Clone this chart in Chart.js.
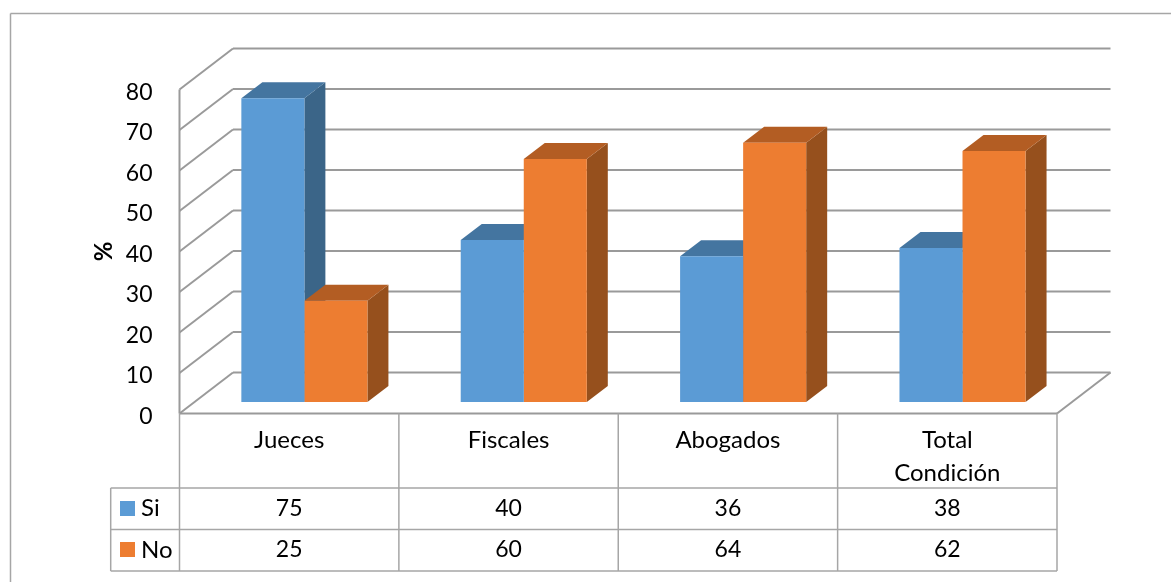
<!DOCTYPE html>
<html>
<head>
<meta charset="utf-8">
<title>Si / No por condición</title>
<script src="https://cdn.jsdelivr.net/npm/chart.js@4"></script>
<style>
    html, body { margin: 0; padding: 0; background: #ffffff; }
    canvas { display: block; }
</style>
</head>
<body>
<canvas id="chart" width="1171" height="582"></canvas>
<script>
const categories = ['Jueces', 'Fiscales', 'Abogados', ['Total', 'Condición']];
const siValues = [75, 40, 36, 38];
const noValues = [25, 60, 64, 62];
const axisMax = 80;
const axisStep = 10;

const fontFamily = 'Lato, "Open Sans", sans-serif';
const lineGrey = '#9a9a9a';
const tableGrey = '#a6a6a6';

// shades of the side and top faces for each series
const faceColors = [
    { front: '#5b9bd5', side: '#3b6588', top: '#4475a0' },
    { front: '#ed7d31', side: '#96501d', top: '#b35d23' }
];

// the wall sits behind the front plane, the bars stand half way in
const wallDepth = { x: 53.5, y: -41 };
const barShift = { x: 15.2, y: -11.5 };
const barDepth = { x: 21, y: -16 };

function line(ctx, x1, y1, x2, y2) {
    ctx.beginPath();
    ctx.moveTo(x1, y1);
    ctx.lineTo(x2, y2);
    ctx.stroke();
}

function poly(ctx, pts, color) {
    ctx.fillStyle = color;
    ctx.beginPath();
    pts.forEach((p, i) => i ? ctx.lineTo(p[0], p[1]) : ctx.moveTo(p[0], p[1]));
    ctx.closePath();
    ctx.fill();
}

const box3d = {
    id: 'box3d',
    beforeDatasetsDraw(chart) {
        const { ctx, scales: { x, y } } = chart;
        const left = x.left, right = x.right;
        ctx.save();

        // outer frame of the picture, open on the right
        ctx.strokeStyle = tableGrey;
        ctx.lineWidth = 1.5;
        line(ctx, 1171, 13.5, 10.5, 13.5);
        line(ctx, 10.5, 13.5, 10.5, 582);

        // back wall and left wall lines
        ctx.strokeStyle = lineGrey;
        ctx.lineWidth = 2;
        y.ticks.forEach(t => {
            const py = y.getPixelForValue(t.value);
            line(ctx, left, py, left + wallDepth.x, py + wallDepth.y);
            line(ctx, left + wallDepth.x, py + wallDepth.y, right + wallDepth.x, py + wallDepth.y);
        });
        line(ctx, left, y.top, left, y.bottom);

        // floor
        const y0 = y.getPixelForValue(0);
        line(ctx, left, y0, right, y0);
        line(ctx, right, y0, right + wallDepth.x, y0 + wallDepth.y);

        // Chart.js paints the last dataset first and the fronts stay side by side,
        // so all side and top faces go down here, before any front
        ctx.translate(barShift.x, barShift.y);
        chart.data.datasets.forEach((ds, i) => {
            const colors = faceColors[i];
            chart.getDatasetMeta(i).data.forEach(bar => {
                const { x, y, base, width } = bar.getProps(['x', 'y', 'base', 'width'], true);
                const l = x - width / 2, r = x + width / 2;
                poly(ctx, [[r, y], [r + barDepth.x, y + barDepth.y], [r + barDepth.x, base + barDepth.y], [r, base]], colors.side);
                poly(ctx, [[l, y], [l + barDepth.x, y + barDepth.y], [r + barDepth.x, y + barDepth.y], [r, y]], colors.top);
            });
        });
        ctx.restore();
    },
    beforeDatasetDraw(chart) {
        chart.ctx.save();
        chart.ctx.translate(barShift.x, barShift.y);
    },
    afterDatasetDraw(chart) {
        chart.ctx.restore();
    },
    afterDraw(chart) {
        const { ctx, scales: { x, y } } = chart;
        const rowTop = 488, rowMid = 529.5, rowEnd = 571, keyLeft = 110.7;
        const rows = [
            { label: chart.data.datasets[0].label, values: siValues, color: faceColors[0].front, key: 501, text: 508.5 },
            { label: chart.data.datasets[1].label, values: noValues, color: faceColors[1].front, key: 542, text: 550 }
        ];
        const step = (x.right - x.left) / categories.length;
        ctx.save();

        // data table under the axis
        ctx.strokeStyle = tableGrey;
        ctx.lineWidth = 1.5;
        for (let i = 0; i <= categories.length; i++) {
            line(ctx, x.left + step * i, y.bottom, x.left + step * i, rowEnd);
        }
        [rowTop, rowMid, rowEnd].forEach(py => line(ctx, keyLeft, py, x.right, py));
        line(ctx, keyLeft, rowTop, keyLeft, rowEnd);

        ctx.textBaseline = 'middle';
        rows.forEach(row => {
            ctx.fillStyle = row.color;
            ctx.fillRect(120, row.key, 15, 15);
            ctx.fillStyle = '#000000';
            ctx.textAlign = 'left';
            ctx.font = '24px ' + fontFamily;
            ctx.fillText(row.label, 141, row.text);
            ctx.textAlign = 'center';
            ctx.font = '23px ' + fontFamily;
            row.values.forEach((v, i) => ctx.fillText(String(v), x.getPixelForValue(i), row.text));
        });
        ctx.restore();
    }
};

new Chart(document.getElementById('chart'), {
    type: 'bar',
    data: {
        labels: categories,
        datasets: [
            { label: 'Si', data: siValues, backgroundColor: faceColors[0].front, clip: false },
            { label: 'No', data: noValues, backgroundColor: faceColors[1].front, clip: false }
        ]
    },
    options: {
        responsive: false,
        animation: false,
        devicePixelRatio: 1,
        layout: { padding: { left: 0, top: 89.5, right: 114, bottom: 0 } },
        plugins: { legend: { display: false }, tooltip: { enabled: false } },
        datasets: { bar: { barPercentage: 1, categoryPercentage: 0.5747 } },
        scales: {
            x: {
                afterFit(scale) { scale.height = 168.5; },
                grid: { display: false, drawTicks: false },
                border: { display: false },
                ticks: {
                    color: '#000000',
                    font: { family: fontFamily, size: 24, lineHeight: 1.38 },
                    padding: 10,
                    maxRotation: 0,
                    autoSkip: false
                }
            },
            y: {
                min: 0,
                max: axisMax,
                afterFit(scale) { scale.width = 179.5; },
                grid: { display: false, drawTicks: false },
                border: { display: false },
                title: {
                    display: true,
                    text: '%',
                    color: '#000000',
                    font: { family: fontFamily, size: 24, weight: 'bold' },
                    padding: { top: 90, bottom: 0 }
                },
                ticks: {
                    stepSize: axisStep,
                    color: '#000000',
                    font: { family: fontFamily, size: 23 },
                    padding: 27,
                    labelOffset: 3
                }
            }
        }
    },
    plugins: [box3d]
});
</script>
</body>
</html>
